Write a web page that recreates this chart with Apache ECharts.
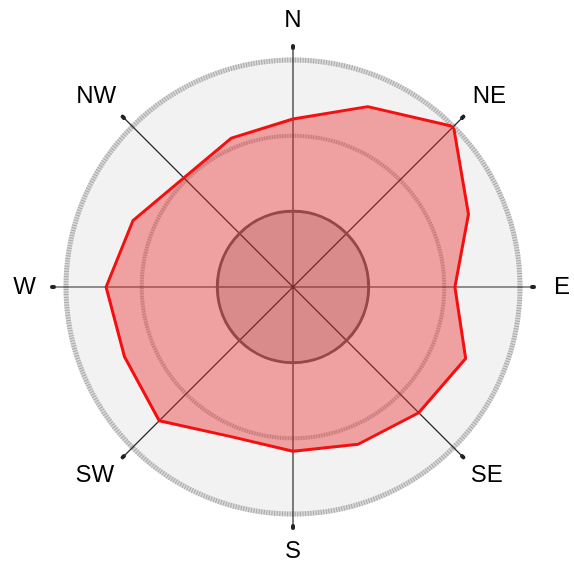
<!DOCTYPE html>
<html>
<head>
<meta charset="utf-8">
<script src="https://cdn.jsdelivr.net/npm/echarts@6/dist/echarts.min.js"></script>
<style>
  html, body { margin: 0; padding: 0; background: #ffffff; }
  #chart { width: 574px; height: 563px; }
</style>
</head>
<body>
<div id="chart"></div>
<script>
// Sixteen compass directions, clockwise from north
const directions = ['N', 'NNE', 'NE', 'ENE', 'E', 'ESE', 'SE', 'SSE',
                    'S', 'SSW', 'SW', 'WSW', 'W', 'WNW', 'NW', 'NNW'];
// Value per direction
const values = [22.2, 25.8, 30.0, 25.1, 21.4, 24.7, 23.5, 22.5,
                21.7, 21.4, 25.0, 24.1, 24.7, 22.9, 20.4, 21.3];
// Ring values of the radial scale
const ringMax = 30;
const ringStep = 10;

// Nudges for the compass labels so they sit evenly round the rose
const labelPadding = {
  N: [0, 0, 5, 0], NE: [0, 0, 2, 3], E: [0, 0, 0, 11], SE: [0, 0, 0, 1],
  S: [2, 0, 0, 0], SW: [0, 2, 0, 0], W: [0, 7, 0, 0], NW: [0, 0, 2, 0]
};

const center = [293, 287];
const outerR = 227;
const spokeR = 239;
const radiusFor = v => outerR * v / ringMax;

const labelFont = { fontFamily: 'Liberation Sans, Arial, sans-serif', fontSize: 24, color: '#000' };

const spokeCategories = directions.map(d => labelPadding[d]
  ? { value: d, textStyle: Object.assign({ padding: labelPadding[d] }, labelFont) }
  : { value: d });

// Each direction sits at its compass bearing; the first one repeats to close the outline
const bearing = i => i * 360 / directions.length;
const closedData = directions.map((d, i) => [values[i], bearing(i)]);
closedData.push([values[0], 360]);

// A polar frame whose outer edge draws one ring of the rose
const ringPolar = r => ({ center: center, radius: r });
const ringAngleAxis = (polarIndex, lineStyle, z) => ({
  polarIndex, type: 'value', min: 0, max: 360, startAngle: 90, z,
  axisLine: { show: true, lineStyle },
  axisTick: { show: false }, axisLabel: { show: false }, splitLine: { show: false }
});
const hiddenRadius = polarIndex => ({ polarIndex, type: 'value', min: 0, max: 1, show: false });

const bandSolid = { color: '#d8d8d8', width: 5 };
const bandDots = { color: '#a9a9a9', width: 5, type: [1, 1.6] };
const midBandSolid = { color: '#d8d8d8', width: 4 };
const midBandDots = { color: '#b0b0b0', width: 4, type: [1, 1.6] };

const option = {
  animation: false,
  backgroundColor: '#ffffff',
  polar: [
    { center: center, radius: outerR },        // 0: backdrop and data
    ringPolar(radiusFor(ringStep)),            // 1: inner solid ring
    ringPolar(radiusFor(2 * ringStep)),        // 2: middle ring (band)
    ringPolar(radiusFor(2 * ringStep)),        // 3: middle ring (dots)
    ringPolar(outerR),                         // 4: outer ring (band)
    ringPolar(outerR),                         // 5: outer ring (dots)
    { center: center, radius: spokeR }         // 6: spokes and compass labels
  ],
  angleAxis: [
    { polarIndex: 0, type: 'value', min: 0, max: 360, startAngle: 90, show: false },
    ringAngleAxis(1, { color: '#5e5e5e', width: 3 }, 3),
    ringAngleAxis(2, midBandSolid, 1),
    ringAngleAxis(3, midBandDots, 1),
    ringAngleAxis(4, bandSolid, 1),
    ringAngleAxis(5, bandDots, 1),
    {
      polarIndex: 6, type: 'category', data: spokeCategories, startAngle: 90, boundaryGap: false, z: 2,
      axisLine: { show: false },
      axisTick: { show: true, interval: 1, length: 2, lineStyle: { color: '#222', width: 4, cap: 'round' } },
      axisLabel: Object.assign({ show: true, interval: 1, margin: 11 }, labelFont),
      splitLine: { show: true, interval: 1, lineStyle: { color: '#2a2a2a', width: 1.2 } }
    }
  ],
  radiusAxis: [
    {
      polarIndex: 0, type: 'value', min: 0, max: ringMax, interval: ringStep, z: 0,
      axisLine: { show: false }, axisTick: { show: false }, axisLabel: { show: false },
      splitArea: { show: true, areaStyle: { color: ['#cdcdcd', '#f2f2f2', '#f2f2f2'] } },
      splitLine: { show: false }
    },
    hiddenRadius(1), hiddenRadius(2), hiddenRadius(3),
    hiddenRadius(4), hiddenRadius(5), hiddenRadius(6)
  ],
  series: [
    {
      type: 'line',
      coordinateSystem: 'polar',
      polarIndex: 0,
      data: closedData,
      symbol: 'none',
      clip: false,
      z: 5,
      lineStyle: { color: '#f41010', width: 3 },
      areaStyle: { color: 'rgba(236,40,40,0.40)', opacity: 1 }
    }
  ]
};

const chart = echarts.init(document.getElementById('chart'), null, { renderer: 'canvas' });
chart.setOption(option);
</script>
</body>
</html>
